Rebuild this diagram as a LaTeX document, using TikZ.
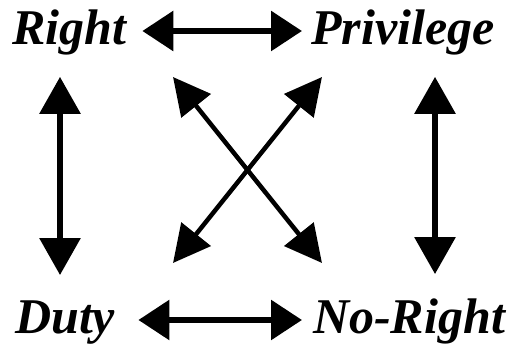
\documentclass[tikz,border=0pt]{standalone}
\usepackage{fontspec}
\setmainfont{Liberation Serif}
\usetikzlibrary{arrows.meta}
\begin{document}
\begin{tikzpicture}[x=1pt,y=1pt,
  lbl/.style={inner sep=0pt, anchor=base west, font=\fontsize{50}{60}\selectfont\bfseries\itshape},
  hor/.style={line width=6pt, {Triangle[length=31pt,width=39pt]}-{Triangle[length=31pt,width=39pt]}},
  ver/.style={line width=6pt, {Triangle[length=37pt,width=40pt]}-{Triangle[length=37pt,width=40pt]}},
  dia/.style={line width=4.5pt, {Triangle[length=37pt,width=37pt]}-{Triangle[length=37pt,width=37pt]}}]
\useasboundingbox (0,0) rectangle (514,347);
\node[lbl] (R) at (12,302) {Right};
\node[lbl] (P) at (311,302) {Privilege};
\node[lbl] (D) at (15,13) {Duty};
\node[lbl] (N) at (313,13) {No-Right};
\coordinate (L) at (60,0);
\coordinate (Rx) at (435,0);
\coordinate (TL) at (173,270);
\coordinate (TR) at (322,270);
\coordinate (BL) at (173,84);
\coordinate (BR) at (322,84);
\draw[hor, shorten <=16pt, shorten >=9pt] ([yshift=14pt]R.base east) -- ([yshift=14pt]P.base west);
\draw[hor, shorten <=23pt, shorten >=11pt] ([yshift=14pt]D.base east) -- ([yshift=14pt]N.base west);
\draw[ver, shorten <=21pt, shorten >=26pt] (R.south -| L) -- (D.north -| L);
\draw[ver, shorten <=21pt, shorten >=25pt] (P.south -| Rx) -- (N.north -| Rx);
\draw[dia] (TL) -- (BR);
\draw[dia] (TR) -- (BL);
\end{tikzpicture}
\end{document}
